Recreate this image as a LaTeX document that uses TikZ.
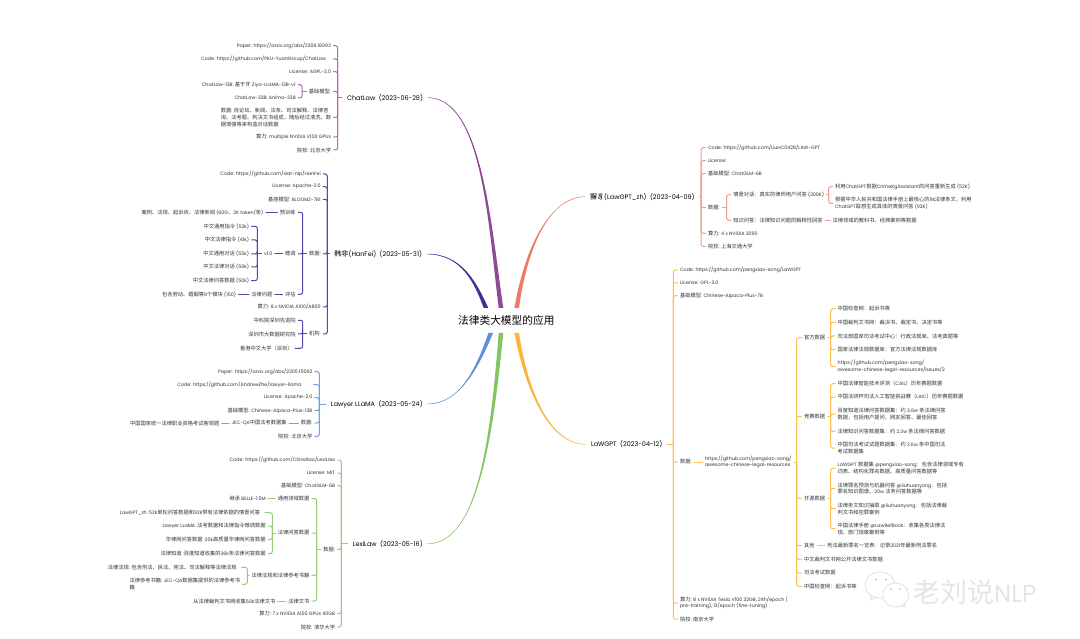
\documentclass[tikz,border=0pt]{standalone}
\usepackage{fontspec}
\usetikzlibrary{calc}
\setmainfont{Poppins}[Scale=0.91]
\newfontfamily\cjkf{Noto Sans CJK SC}
\newXeTeXintercharclass\cjkcls
\newcount\cc
\newcommand\setrange[2]{\cc=#1\relax\loop\XeTeXcharclass\cc=\cjkcls\relax\ifnum\cc<#2\advance\cc by 1\repeat}
\setrange{"3000}{"303F}\setrange{"4E00}{"9FFF}\setrange{"FF00}{"FFEF}
\XeTeXinterchartoks 0 \cjkcls={\cjkf}
\XeTeXinterchartoks 4095 \cjkcls={\cjkf}
\XeTeXinterchartoks \cjkcls 0={\rmfamily}
\XeTeXinterchartoks \cjkcls 4095={\rmfamily}
\XeTeXinterchartokenstate=1
\definecolor{txt}{HTML}{333333}
\definecolor{cP}{HTML}{8E4A94}\definecolor{lP}{HTML}{B06CB0}
\definecolor{cH}{HTML}{3B3394}\definecolor{lH}{HTML}{5248AE}
\definecolor{cS}{HTML}{EE7A68}\definecolor{lS}{HTML}{F49C8C}
\definecolor{cB}{HTML}{5E8FDB}\definecolor{lB}{HTML}{74A0E2}
\definecolor{cG}{HTML}{82C562}\definecolor{lG}{HTML}{93CE76}
\definecolor{cO}{HTML}{FBB53C}\definecolor{lO}{HTML}{FCC055}
\tikzset{
 x=1pt,y=-1pt,
 tx/.style={inner sep=0pt,outer sep=2.5pt,text=txt,align=left,font=\fontsize{5.25}{6.7}\selectfont},
 lt/.style={tx,anchor=east,xshift=2.5pt},
 rt/.style={tx,anchor=west,xshift=-2.5pt},
 hd/.style={inner sep=0pt,outer sep=5pt,text=black,font=\fontsize{7.1}{9}\selectfont},
 cn/.style={line width=1pt,line cap=round,rounded corners=2.2pt},
}
\newcommand\nL[5][]{\node[lt,#1] (#2) at (#3,#4) {#5};}
\newcommand\nR[5][]{\node[rt,#1] (#2) at (#3,#4) {#5};}
% bracket on the left side: parent, trunk x, children
\newcommand\brL[3]{\path (#1.west) -- (#2,0) coordinate[pos=1] (tmpx);
 \coordinate (#1-t) at (#1.west -| tmpx);
 \draw[cn] (#1.west) -- (#1-t);
 \foreach \k in {#3}{\draw[cn] (\k.east) -| (#1-t);}}
\newcommand\brR[3]{\path (#1.east) -- (#2,0) coordinate[pos=1] (tmpx);
 \coordinate (#1-t) at (#1.east -| tmpx);
 \draw[cn] (#1.east) -- (#1-t);
 \foreach \k in {#3}{\draw[cn] (\k.west) -| (#1-t);}}
\newcommand\tap[5]{\fill[#1] (#2) .. controls (#3) and (#4) .. ($(#5)+(2.3,0)$) -- ($(#5)+(-2.3,0)$) .. controls ($(#4)+(-2.6,0)$) and ($(#3)+(0,1)$) .. (#2);
 \draw[#1,line width=0.4pt] (#2) .. controls (#3) and (#4) .. (#5);}
\begin{document}
\begin{tikzpicture}
\useasboundingbox (0,0) rectangle (1080,639);
\fill[white] (0,0) rectangle (1080,639);
% watermark
\begin{scope}[draw=black!13,line width=0.7pt,fill=white]
\draw (880,585) ellipse (15 and 13);
\draw (870,595) -- (871,600) -- (876,597);
\filldraw (895.7,595) ellipse (13 and 12);
\draw (901,606) -- (905,607) -- (904,603);
\fill[black!30] (876,579.5) circle (0.8) (886,579.5) circle (0.8) (891,589) circle (0.8) (900,589) circle (0.8);
\end{scope}
\node[inner sep=0pt,anchor=west,text=black!10,font=\fontsize{27}{27}\selectfont] (wm) at (913,592) {老刘说NLP};
% root
\node[inner sep=0pt,text=black,font=\fontsize{10.7}{12}\selectfont] (root) at (506.3,320.7) {法律类大模型的应用};
\coordinate (rP) at (501,308);\coordinate (rH) at (486,308);\coordinate (rS) at (516.7,308);
\coordinate (rB) at (490.7,333);\coordinate (rG) at (501,333);\coordinate (rO) at (516.7,333);
% heads
\node[hd,anchor=east,xshift=5pt] (cl) at (423,97.7) {ChatLaw\ \ (2023-06-28)};
\node[hd,anchor=east,xshift=5pt] (hf) at (422,254) {韩非(HanFei)\ \ (2023-05-31)};
\node[hd,anchor=east,xshift=5pt] (ll) at (422.7,404) {Lawyer LLaMA\ \ (2023-05-24)};
\node[hd,anchor=east,xshift=5pt] (lx) at (422.7,543.7) {LexiLaw\ \ (2023-05-16)};
\node[hd,anchor=west,xshift=-5pt] (zh) at (590,196.7) {獬豸(LawGPT\_zh)\ \ (2023-04-09)};
\node[hd,anchor=west,xshift=-5pt] (lg) at (591,444.3) {LaWGPT\ \ (2023-04-12)};
\tap{cP}{cl.east}{482,98}{491,225}{rP}
\tap{cH}{hf.east}{462,254}{477,283}{rH}
\tap{cS}{zh.west}{548,197}{527,250}{rS}
\tap{cB}{ll.east}{460,404}{480,365}{rB}
\tap{cG}{lx.east}{480,544}{494,425}{rG}
\tap{cO}{lg.west}{547,444}{527,385}{rO}
% ChatLaw
\begin{scope}[lP]
\nL{clp}{331}{45.7}{Paper: https://arxiv.org/abs/2306.16092}
\nL[outer xsep=7pt,xshift=4.5pt]{clc}{326}{59}{Code: https://github.com/PKU-YuanGroup/ChatLaw}
\nL{cll}{331}{71.7}{License: AGPL-3.0}
\nL{clb}{331}{91.5}{基础模型:}
\nL{clb1}{295.7}{84.7}{ChatLaw-13B: 基于牙 Ziya-LLaMA-13B-v1}
\nL{clb2}{295.7}{98}{ChatLaw-33B: Anima-33B}
\nL{cld}{331}{117.5}{数据: 自论坛、新闻、法条、司法解释、法律咨\\询、法考题、判决文书组成，随后经过清洗、数\\据增强等来构造对话数据}
\nL{cla}{331}{137}{算力: multiple NVIDIA V100 GPUs}
\nL{cls}{331}{150}{院校: 北京大学}
\brL{cl}{337.7}{clp,clc,cll,clb,cld,cla,cls}
\brL{clb}{302}{clb1,clb2}
\end{scope}
% HanFei
\begin{scope}[lH]
\nL{hfc}{320.7}{174}{Code: https://github.com/siat-nlp/HanFei}
\nL{hfl}{320.7}{186.7}{License: Apache-2.0}
\nL{hfb}{320.7}{199.3}{基座模型: BLOOMZ-7B1}
\nL{hfd}{320.7}{254}{数据:}
\nL{hfa}{320.7}{307}{算力: 8 x NVIDIA A100/A800}
\nL{hfo}{320.7}{334}{机构:}
\brL{hf}{327.3}{hfc,hfl,hfb,hfd,hfa,hfo}
\nL{hfp}{295.7}{212.3}{预训练}
\nL{hfw}{295.7}{254}{微调}
\nL{hfe}{295.7}{294.3}{评估}
\brL{hfd}{302.7}{hfp,hfw,hfe}
\nL{hfp1}{263.3}{212.3}{案例、法规、起诉状、法律新闻 (60G，2K token/条)}
\draw[cn] (hfp.west) -- (hfp1.east);
\nL{hfv}{272.3}{254}{v1.0}
\draw[cn] (hfw.west) -- (hfv.east);
\nL{hfv1}{249}{226.3}{中文通用指令 (53k)}
\nL{hfv2}{249}{240}{中文法律指令 (41k)}
\nL{hfv3}{249}{254}{中文通用对话 (55k)}
\nL{hfv4}{249}{267}{中文法律对话 (56k)}
\nL{hfv5}{249}{280.7}{中文法律问答数据 (50k)}
\brL{hfv}{257.3}{hfv1,hfv2,hfv3,hfv4,hfv5}
\nL{hfq}{272.3}{294.3}{法律问题}
\draw[cn] (hfe.west) -- (hfq.east);
\nL{hfq1}{236}{294.3}{包含劳动、婚姻等9个模块 (150)}
\draw[cn] (hfq.west) -- (hfq1.east);
\nL{hfo1}{295.7}{320.3}{中科院深圳先进院}
\nL{hfo2}{295.7}{334}{深圳市大数据研究院}
\nL{hfo3}{292.5}{348.3}{香港中文大学（深圳）}
\brL{hfo}{302.7}{hfo1,hfo2,hfo3}
\end{scope}
% Lawyer LLaMA
\begin{scope}[lB]
\nL{llp}{312.3}{371.7}{Paper: https://arxiv.org/abs/2305.15062}
\nL[outer xsep=12pt,xshift=9.5pt]{llc}{301.7}{384.7}{Code: https://github.com/AndrewZhe/lawyer-llama}
\nL{lll}{312.3}{397.7}{License: Apache-2.0}
\nL{llb}{312.3}{410.7}{基础模型: Chinese-Alpaca-Plus-13B}
\nL{lld}{312.3}{423}{数据:}
\nL{lls}{312.3}{436.3}{院校: 北京大学}
\brL{ll}{319.3}{llp,llc,lll,llb,lld,lls}
\nL{llj}{286.7}{423}{JEC-QA中国法考数据集}
\draw[cn] (lld.west) -- (llj.east);
\nL{llk}{219.3}{423}{中国国家统一法律职业资格考试客观题}
\draw[cn] (llj.west) -- (llk.east);
\end{scope}
% LexiLaw
\begin{scope}[lG]
\nL{lxc}{335}{460}{Code: https://github.com/CSHaitao/LexiLaw}
\nL{lxl}{335}{473}{License: MIT}
\nL{lxb}{335}{485.7}{基础模型: ChatGLM-6B}
\nL{lxd}{335}{549.3}{数据:}
\nL{lxa}{335}{613.7}{算力: 7 x NVIDIA A100 GPUs 40GB}
\nL{lxs}{335}{627}{院校: 清华大学}
\brL{lx}{341.3}{lxc,lxl,lxb,lxd,lxa,lxs}
\nL{lxg}{309.3}{498.7}{通用领域数据}
\nL{lxq}{309.3}{533}{法律问答数据}
\nL{lxf}{309.3}{575.3}{法律法规和法律参考书籍}
\nL{lxw}{309.3}{601}{法律文书}
\brL{lxd}{316.7}{lxg,lxq,lxf,lxw}
\nL{lxg1}{265.7}{498.7}{继承 BELLE-1.5M}
\draw[cn] (lxg.west) -- (lxg1.east);
\nL[outer xsep=5pt,xshift=2.5pt]{lxq1}{260}{512.7}{LawGPT\_zh :52k单轮问答数据和92k带有法律依据的情景问答}
\nL{lxq2}{265.7}{526}{Lawyer LLaMA :法考数据和法律指令微调数据}
\nL{lxq3}{265.7}{539.7}{华律网问答数据 :20k高质量华律网问答数据}
\nL{lxq4}{265.7}{553.7}{法律知道 :百度知道收集的36k条法律问答数据}
\brL{lxq}{272.3}{lxq1,lxq2,lxq3,lxq4}
\nL[outer xsep=5pt,xshift=2.5pt]{lxf1}{236.7}{567.3}{法律法规: 包含刑法、民法、宪法、司法解释等法律法规}
\nL{lxf2}{240}{584.3}{法律参考书籍: JEC-QA数据集提供的法律参考书\\籍}
\brL{lxf}{247.3}{lxf1,lxf2}
\nL{lxw1}{275.3}{601}{从法律裁判文书网收集50k法律文书}
\draw[cn] (lxw.west) -- (lxw1.east);
\end{scope}
% LawGPT_zh
\begin{scope}[lS]
\nR{zhc}{708}{147.7}{Code: https://github.com/LiuHC0428/LAW-GPT}
\nR{zhl}{708}{160.7}{License:}
\nR{zhb}{708}{173.7}{基础模型: ChatGLM-6B}
\nR{zhd}{708}{207.7}{数据:}
\nR{zha}{708}{233.3}{算力: 4 x NVIDIA 3090}
\nR{zhs}{708}{246.3}{院校: 上海交通大学}
\brR{zh}{701}{zhc,zhl,zhb,zhd,zha,zhs}
\nR{zhq}{733.3}{194.7}{情景对话：真实的律师用户问答 (200K)}
\nR{zhk}{733.3}{220.3}{知识问答：法律知识问题的解释性回答}
\brR{zhd}{726.7}{zhq,zhk}
\nR{zhq1}{835}{186.7}{利用ChatGPT根据CrimeKgAssistant的问答重新生成 (52K)}
\nR{zhq2}{835}{203.5}{根据中华人民共和国法律手册上最核心的9k法律条文，利用\\ChatGPT联想生成具体的情景问答 (92K)}
\brR{zhq}{828.7}{zhq1,zhq2}
\nR{zhk1}{832.7}{220.3}{法律领域的教科书、经典案例等数据}
\draw[cn] (zhk.east) -- (zhk1.west);
\end{scope}
% LaWGPT
\begin{scope}[lO]
\nR{lgc}{680}{270}{Code: https://github.com/pengxiao-song/LaWGPT}
\nR{lgl}{680}{282.7}{License: GPL-3.0}
\nR{lgb}{680}{295.7}{基础模型: Chinese-Alpaca-Plus-7B}
\nR{lgd}{680}{462}{数据:}
\nR{lga}{680}{603}{算力: 8 x NVIDIA Tesla V100 32GB, 24h/epoch (\\pre-training), 12/epoch (fine-tuning)}
\nR{lgs}{680}{619}{院校: 南京大学}
\brR{lg}{673.3}{lgc,lgl,lgb,lgd,lga,lgs}
\nR{lgu}{705}{462}{https://github.com/pengxiao-song/\\awesome-chinese-legal-resources}
\draw[cn] (lgd.east) -- (lgu.west);
\nR{g1}{804}{337.7}{官方数据}
\nR{g2}{804}{416.3}{竞赛数据}
\nR{g3}{804}{498.3}{开源数据}
\nR{g4}{804}{545.7}{其他}
\nR{g5}{804}{559.3}{中文裁判文书网公开法律文书数据}
\nR{g6}{804}{573}{司法考试数据}
\nR{g7}{804}{586.3}{中国检查网：起诉书等}
\brR{lgu}{796.7}{g1,g2,g3,g4,g5,g6,g7}
\nR{a1}{837.7}{308.7}{中国检查网：起诉书等}
\nR{a2}{837.7}{322.3}{中国裁判文书网：裁决书、裁定书、决定书等}
\nR{a3}{837.7}{336}{司法部国家司法考试中心：行政法规库、法考真题等}
\nR{a4}{837.7}{349.7}{国家法律法规数据库：官方法律法规数据库}
\nR{a5}{837.7}{366.7}{https://github.com/pengxiao-song/\\awesome-chinese-legal-resources/issues/2}
\brR{g1}{830.7}{a1,a2,a3,a4,a5}
\nR{b1}{837.7}{383.7}{中国法律智能技术评测（CAIL）历年赛题数据}
\nR{b2}{837.7}{397}{中国法研杯司法人工智能挑战赛（LAIC）历年赛题数据}
\nR{b3}{837.7}{414.2}{百度知道法律问答数据集：约 3.6w 条法律问答\\数据，包括用户提问、网友回答、最佳回答}
\nR{b4}{837.7}{431.3}{法律知识问答数据集：约 2.3w 条法律问答数据}
\nR{b5}{837.7}{448.2}{中国司法考试试题数据集：约 2.6w 条中国司法\\考试数据集}
\brR{g2}{830.7}{b1,b2,b3,b4,b5}
\nR{c1}{837.7}{468.3}{LaWGPT 数据集 @pengxiao-song：包含法律领域专有\\词表、结构化罪名数据、高质量问答数据等}
\nR{c2}{837.7}{488.5}{法律罪名预测与机器问答 @liuhuanyong：包括\\罪名知识图谱、20w 法务问答数据等}
\nR{c3}{837.7}{508.7}{法律条文知识抽取 @liuhuanyong：包括法律裁\\判文书和犯罪案例}
\nR{c4}{837.7}{528.7}{中国法律手册 @LawRefBook：收集各类法律法\\规、部门规章案例等}
\brR{g3}{830.7}{c1,c2,c3,c4}
\nR{d1}{827.3}{545.7}{刑法最新罪名一览表：记录2021年最新刑法罪名}
\draw[cn] (g4.east) -- (d1.west);
\end{scope}
\end{tikzpicture}
\end{document}
